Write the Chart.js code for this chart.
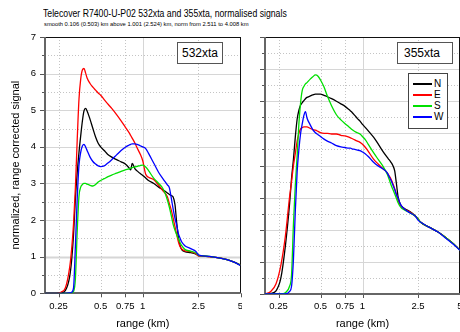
<!DOCTYPE html>
<html>
<head>
<meta charset="utf-8">
<script src="https://cdn.jsdelivr.net/npm/chart.js@4/dist/chart.umd.min.js"></script>
<style>
  body { margin: 0; background: #fff; width: 460px; height: 332px; overflow: hidden; position: relative;
         font-family: "Liberation Sans", Arial, sans-serif; color: #000; }
  #title { position: absolute; left: 43px; top: 8px; font-size: 10px; white-space: nowrap;
           transform-origin: 0 0; transform: scaleX(0.87); }
  #subtitle { position: absolute; left: 44px; top: 21px; font-size: 5.8px; white-space: nowrap; }
  #c532 { position: absolute; left: 0; top: 30px; }
  #c355 { position: absolute; left: 242px; top: 30px; }
  .tag { position: absolute; top: 42px; height: 20px; border: 1px solid #555; background: #fff;
         font-size: 12px; line-height: 20px; box-sizing: content-box; }
  #tag532 { left: 177px; width: 44px; text-align: center; }
  #tag355 { left: 397px; width: 48px; padding-left: 6px; }
  #legend { position: absolute; left: 408px; top: 73px; width: 38px; height: 54px; border: 1px solid #444;
            background: #fff; font-size: 10px; }
  .ln { position: absolute; left: 4px; width: 19px; height: 2px; }
  .lb { position: absolute; left: 25px; height: 11px; line-height: 11px; }
</style>
</head>
<body>
<div id="title">Telecover R7400-U-P02 532xta and 355xta, normalised signals</div>
<div id="subtitle">smooth 0.106 (0.503) km above 1.001 (2.524) km, norm from 2.511 to 4.008 km</div>
<canvas id="c532" width="242" height="302"></canvas>
<canvas id="c355" width="218" height="302"></canvas>
<div class="tag" id="tag532">532xta</div>
<div class="tag" id="tag355">355xta</div>
<div id="legend"></div>

<script>
// range grid (km) shared by all curves
const rangeKm = [0.20, 0.22, 0.24, 0.26, 0.28,
  0.30, 0.31, 0.32, 0.33, 0.34, 0.35, 0.36, 0.37, 0.38, 0.39, 0.40,
  0.42, 0.44, 0.46, 0.48, 0.50,
  0.53, 0.56, 0.60, 0.65, 0.70, 0.75, 0.80,
  0.82, 0.84, 0.88, 0.92, 0.96, 1.00,
  1.05, 1.10, 1.20, 1.30, 1.40, 1.50,
  1.55, 1.60, 1.65, 1.70, 1.75, 1.80, 1.85, 1.90,
  2.00, 2.20, 2.40, 2.50, 2.60,
  3.00, 3.50, 4.00, 4.50, 5.00];

// 532xta
const n532 = [0, 0, 0, 0.01, 0.08,
  0.45, 0.9, 1.6, 2.6, 3.3, 3.85, 4.3, 4.7, 4.98, 5.05, 4.98,
  4.75, 4.5, 4.27, 4.1, 4.0,
  3.9, 3.8, 3.72, 3.65, 3.59, 3.53, 3.42,
  3.37, 3.55, 3.4, 3.33, 3.27, 3.22,
  3.15, 3.08, 3.0, 2.9, 2.82, 2.74,
  2.7, 2.67, 2.63, 2.42, 1.92, 1.52, 1.3, 1.19,
  1.14, 1.11, 1.07, 1.03, 1.02,
  1.0, 0.97, 0.92, 0.85, 0.77];
const e532 = [0, 0, 0, 0.03, 0.15,
  0.7, 1.2, 1.9, 2.9, 4.2, 5.3, 5.85, 6.1, 6.14, 6.02, 5.88,
  5.73, 5.63, 5.55, 5.47, 5.41,
  5.29, 5.18, 5.05, 4.88, 4.71, 4.54, 4.38,
  4.31, 4.24, 4.1, 3.94, 3.8, 3.62,
  3.25, 3.17, 3.1, 2.95, 2.79, 2.64,
  2.45, 2.27, 2.05, 1.82, 1.6, 1.4, 1.27, 1.21,
  1.16, 1.14, 1.08, 1.02, 1.02,
  1.0, 0.97, 0.92, 0.85, 0.77];
const s532 = [0, 0, 0, 0, 0,
  0, 0.01, 0.05, 0.4, 1.7, 2.65, 2.9, 2.97, 3.0, 3.0, 2.98,
  2.95, 2.93, 2.97, 3.04, 3.08,
  3.13, 3.18, 3.23, 3.28, 3.33, 3.37, 3.4,
  3.42, 3.43, 3.45, 3.47, 3.49, 3.5,
  3.45, 3.35, 3.14, 3.0, 2.85, 2.55,
  2.35, 2.12, 1.88, 1.72, 1.6, 1.48, 1.38, 1.3,
  1.2, 1.15, 1.1, 1.04, 1.03,
  1.01, 0.97, 0.92, 0.85, 0.77];
const w532 = [0, 0, 0, 0, 0,
  0.01, 0.03, 0.15, 1.3, 2.6, 3.5, 3.85, 4.02, 4.07, 4.0, 3.9,
  3.72, 3.6, 3.53, 3.48, 3.46,
  3.48, 3.55, 3.65, 3.78, 3.9, 3.99, 4.05,
  4.07, 4.08, 4.08, 4.06, 4.03, 4.0,
  3.95, 3.82, 3.55, 3.3, 3.12, 2.96,
  2.88, 2.6, 2.3, 2.05, 1.85, 1.62, 1.5, 1.4,
  1.3, 1.22, 1.14, 1.05, 1.03,
  1.01, 0.97, 0.92, 0.85, 0.76];

// 355xta
const n355 = [0, 0.01, 0.05, 0.25, 0.75,
  1.4, 1.8, 2.1, 2.45, 2.72, 2.86, 2.94, 2.98, 3.01, 3.04, 3.06,
  3.08, 3.1, 3.11, 3.11, 3.11,
  3.09, 3.07, 3.04, 3.0, 2.96, 2.92, 2.87,
  2.85, 2.83, 2.78, 2.73, 2.69, 2.64,
  2.59, 2.54, 2.44, 2.33, 2.22, 2.13,
  2.09, 2.05, 2.0, 1.92, 1.72, 1.51, 1.42, 1.37,
  1.33, 1.28, 1.21, 1.17, 1.12,
  1.04, 0.96, 0.87, 0.78, 0.68];
const e355 = [0, 0.04, 0.16, 0.45, 0.9,
  1.51, 1.75, 2.0, 2.19, 2.38, 2.5, 2.57, 2.59, 2.6, 2.6, 2.6,
  2.58, 2.56, 2.55, 2.53, 2.51,
  2.5, 2.5, 2.49, 2.49, 2.47, 2.46, 2.44,
  2.43, 2.42, 2.4, 2.38, 2.36, 2.33,
  2.28, 2.22, 2.1, 2.02, 1.95, 1.89,
  1.84, 1.79, 1.72, 1.64, 1.55, 1.46, 1.4, 1.36,
  1.32, 1.27, 1.21, 1.17, 1.12,
  1.04, 0.96, 0.87, 0.78, 0.68];
const s355 = [0, 0, 0, 0, 0.02,
  0.12, 0.3, 1.1, 1.7, 2.15, 2.65, 2.98, 3.17, 3.23, 3.27, 3.29,
  3.34, 3.38, 3.41, 3.39, 3.33,
  3.22, 3.08, 2.93, 2.79, 2.71, 2.65, 2.6,
  2.58, 2.56, 2.53, 2.51, 2.49, 2.45,
  2.4, 2.33, 2.2, 2.09, 1.99, 1.87,
  1.79, 1.7, 1.63, 1.56, 1.49, 1.42, 1.37, 1.34,
  1.31, 1.26, 1.21, 1.17, 1.12,
  1.04, 0.96, 0.87, 0.78, 0.68];
const w355 = [0, 0, 0, 0, 0,
  0.04, 0.12, 0.55, 1.3, 1.9, 2.25, 2.5, 2.65, 2.78, 2.84, 2.74,
  2.64, 2.56, 2.51, 2.48, 2.45,
  2.41, 2.38, 2.35, 2.31, 2.29, 2.28, 2.27,
  2.27, 2.26, 2.25, 2.24, 2.23, 2.21,
  2.18, 2.14, 2.05, 1.99, 1.95, 1.89,
  1.83, 1.77, 1.7, 1.63, 1.55, 1.49, 1.42, 1.37,
  1.32, 1.26, 1.21, 1.15, 1.12,
  1.04, 0.96, 0.86, 0.77, 0.68];

const sectorNames = ['N', 'E', 'S', 'W'];
const sectorColors = ['#000000', '#ff0000', '#00e000', '#0000ff'];
const xTickValues = [0.25, 0.5, 0.75, 1, 2.5, 5];

const FONT = '"Liberation Sans", Arial, sans-serif';

// grid lines, tick marks and frame drawn from the scales
const framePlugin = {
  id: 'frame',
  beforeDatasetsDraw(chart, args, o) {
    const { ctx, chartArea: a, scales: { x, y } } = chart;
    ctx.save();
    ctx.lineWidth = 1;
    const n = Math.round((y.max - y.min) / o.yMinor);
    for (let k = 1; k < n; k++) {
      const v = k * o.yMinor;
      const py = Math.round(y.getPixelForValue(v)) + 0.5;
      const major = k % 2 === 0;
      ctx.strokeStyle = major ? '#d6d6d6' : '#c4c4c4';
      ctx.lineWidth = (o.refLine === v) ? 2 : 1;
      ctx.setLineDash(major ? [] : [1, 2]);
      ctx.beginPath(); ctx.moveTo(a.left, py); ctx.lineTo(a.right, py); ctx.stroke();
    }
    ctx.lineWidth = 1;
    xTickValues.forEach(v => {
      if (v >= x.max) return;
      const px = Math.round(x.getPixelForValue(v)) + 0.5;
      const major = v === 1;
      ctx.strokeStyle = major ? '#d6d6d6' : '#c4c4c4';
      ctx.setLineDash(major ? [] : [1, 2]);
      ctx.beginPath(); ctx.moveTo(px, a.top); ctx.lineTo(px, a.bottom); ctx.stroke();
    });
    ctx.setLineDash([]);
    // tick marks
    ctx.strokeStyle = '#555';
    for (let k = 0; k <= n; k++) {
      const py = Math.round(y.getPixelForValue(k * o.yMinor)) + 0.5;
      const len = k % 2 === 0 ? 5 : 3;
      ctx.beginPath(); ctx.moveTo(a.left - len, py); ctx.lineTo(a.left, py); ctx.stroke();
    }
    xTickValues.forEach(v => {
      const px = Math.round(x.getPixelForValue(v)) + 0.5;
      ctx.beginPath(); ctx.moveTo(px, a.bottom); ctx.lineTo(px, a.bottom + 4); ctx.stroke();
    });
    // frame
    ctx.strokeStyle = '#111';
    ctx.beginPath();
    ctx.moveTo(a.left, Math.round(a.top) + 0.5); ctx.lineTo(a.right, Math.round(a.top) + 0.5);
    ctx.moveTo(Math.round(a.right) - 0.5, a.top); ctx.lineTo(Math.round(a.right) - 0.5, a.bottom);
    ctx.stroke();
    ctx.strokeStyle = '#666';
    ctx.lineWidth = 2;
    ctx.beginPath();
    ctx.moveTo(Math.round(a.left), a.top); ctx.lineTo(Math.round(a.left), Math.round(a.bottom) + 1);
    ctx.moveTo(a.left - 1, Math.round(a.bottom)); ctx.lineTo(a.right, Math.round(a.bottom));
    ctx.stroke();
    ctx.restore();
  }
};

function makeChart(id, series, opts) {
  const ctx = document.getElementById(id).getContext('2d');
  return new Chart(ctx, {
    type: 'line',
    data: {
      datasets: series.map((vals, i) => ({
        label: sectorNames[i],
        data: rangeKm.map((r, j) => ({ x: r, y: vals[j] })),
        borderColor: sectorColors[i],
        borderWidth: 1.3,
        pointRadius: 0,
        cubicInterpolationMode: 'monotone',
        order: 3 - i
      }))
    },
    options: {
      responsive: false,
      animation: false,
      events: [],
      layout: { padding: { top: 7, right: opts.padRight, left: 0, bottom: 0 } },
      plugins: {
        legend: { display: false },
        tooltip: { enabled: false },
        frame: { yMinor: opts.yMinor, refLine: opts.refLine }
      },
      scales: {
        x: {
          type: 'logarithmic',
          min: 0.2,
          max: 5,
          grid: { display: false, drawTicks: false },
          border: { display: false },
          afterBuildTicks: s => { s.ticks = xTickValues.map(v => ({ value: v })); },
          afterFit: s => { s.height = opts.xHeight; s.paddingLeft = 0; s.paddingRight = 0; },
          ticks: {
            autoSkip: false, maxRotation: 0, padding: 7, color: '#000',
            font: { family: FONT, size: 9.5 },
            callback: v => String(v)
          },
          title: { display: true, text: 'range (km)', color: '#000', font: { family: FONT, size: 11 },
                   padding: { top: 0, bottom: 1 } }
        },
        y: {
          min: 0,
          max: opts.yMax,
          grid: { display: false, drawTicks: false },
          border: { display: false },
          afterFit: s => { s.width = opts.yWidth; s.paddingTop = 0; s.paddingBottom = 0; },
          ticks: {
            display: opts.yLabels, stepSize: 1, padding: 9, color: '#000',
            font: { family: FONT, size: 9.5 }
          },
          title: { display: opts.yLabels, text: 'normalized, range corrected signal', color: '#000',
                   font: { family: FONT, size: 11 }, padding: { top: 9, bottom: 0 } }
        }
      }
    },
    plugins: [framePlugin]
  });
}

makeChart('c532', [n532, e532, s532, w532],
  { yMax: 7, yMinor: 0.5, refLine: 1, yWidth: 45, xHeight: 38.7, padRight: 1.5, yLabels: true });
makeChart('c355', [n355, e355, s355, w355],
  { yMax: 4, yMinor: 0.25, refLine: null, yWidth: 23, xHeight: 38, padRight: 0, yLabels: false });

// legend for the 355 panel
const legend = document.getElementById('legend');
sectorNames.forEach((name, i) => {
  const top = 4 + i * 11;
  const ln = document.createElement('div');
  ln.className = 'ln';
  ln.style.top = (top + 5) + 'px';
  ln.style.background = sectorColors[i];
  const lb = document.createElement('div');
  lb.className = 'lb';
  lb.style.top = top + 'px';
  lb.textContent = name;
  legend.appendChild(ln);
  legend.appendChild(lb);
});
</script>
</body>
</html>
